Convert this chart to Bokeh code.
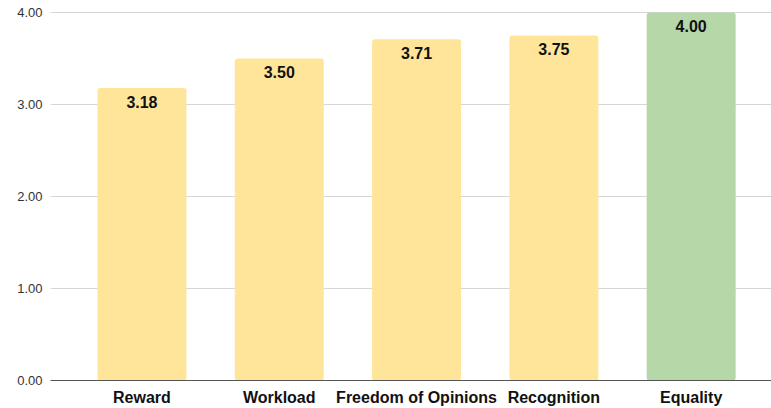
from bokeh.plotting import figure
from bokeh.models import ColumnDataSource, FixedTicker, Range1d, NumeralTickFormatter
from bokeh.core.properties import value
from bokeh.embed import file_html
from bokeh.resources import INLINE

categories = ["Reward", "Workload", "Freedom of Opinions", "Recognition", "Equality"]
scores = [3.18, 3.50, 3.71, 3.75, 4.00]
bar_colors = ["#FFE599", "#FFE599", "#FFE599", "#FFE599", "#B6D7A8"]
y_ticks = [0, 1, 2, 3, 4]

xs = list(range(len(categories)))
src = ColumnDataSource(dict(x=xs, top=scores, color=bar_colors,
                            label=[f"{v:.2f}" for v in scores]))

p = figure(width=771, height=408, output_backend="svg", toolbar_location=None,
           x_range=Range1d(-0.666, 4.585), y_range=Range1d(0, 4.1304),
           min_border_left=50, min_border_right=0, min_border_top=0, min_border_bottom=0)
p.outline_line_color = None
p.background_fill_color = "white"

p.vbar(x="x", top="top", bottom=0, width=0.648, fill_color="color", line_color=None,
       source=src, border_radius=3)
p.text(x="x", y="top", text="label", source=src, text_align="center", text_baseline="top",
       y_offset=8, text_font=value("Liberation Sans"), text_font_style="bold",
       text_font_size="16px", text_color="#111111")

p.xaxis.ticker = FixedTicker(ticks=xs)
p.xaxis.major_label_overrides = {i: c for i, c in zip(xs, categories)}
p.xaxis.axis_line_color = "#555555"
p.xaxis.major_tick_line_color = None
p.xaxis.minor_tick_line_color = None
p.xaxis.major_tick_out = 0
p.xaxis.major_label_standoff = 8
p.xaxis.major_label_text_font = "Liberation Sans"
p.xaxis.major_label_text_font_style = "bold"
p.xaxis.major_label_text_font_size = "16px"
p.xaxis.major_label_text_color = "#111111"

p.yaxis.ticker = FixedTicker(ticks=y_ticks)
p.yaxis.formatter = NumeralTickFormatter(format="0.00")
p.yaxis.axis_line_color = None
p.yaxis.major_tick_line_color = None
p.yaxis.minor_tick_line_color = None
p.yaxis.major_tick_out = 0
p.yaxis.major_label_standoff = 8
p.yaxis.major_label_text_font = "Liberation Sans"
p.yaxis.major_label_text_font_size = "13px"
p.yaxis.major_label_text_color = "#333333"

p.xgrid.grid_line_color = None
p.ygrid.grid_line_color = "#d6d6d6"
p.ygrid.grid_line_width = 1

open("out.html", "w").write(file_html(p, INLINE))
